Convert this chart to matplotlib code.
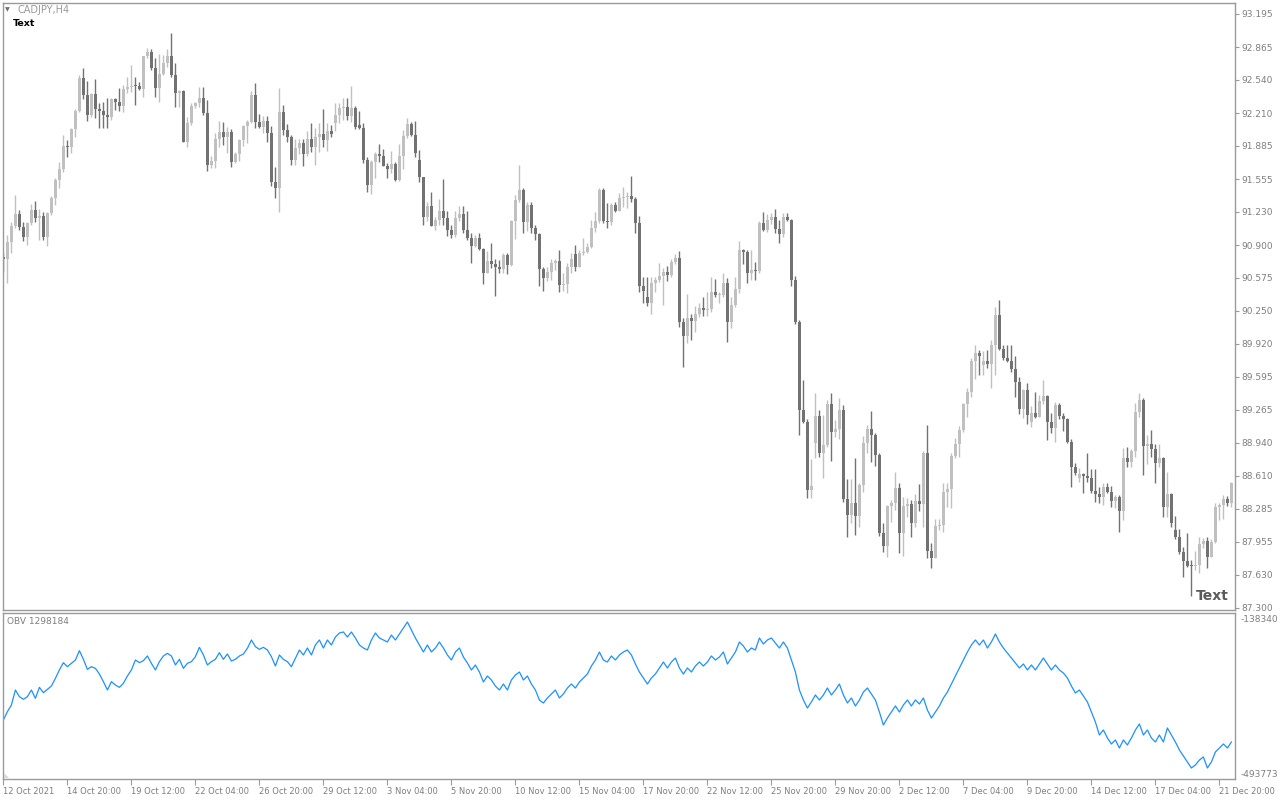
import numpy as np
import matplotlib.pyplot as plt
from matplotlib.patches import Polygon

# CADJPY H4 candles, 12 Oct - 21 Dec 2021
closes = [
    90.760, 90.936, 91.091, 91.207, 91.085, 90.985, 91.118, 91.250, 91.174, 91.190,
    90.985, 91.217, 91.372, 91.548, 91.657, 91.885, 91.875, 92.054, 92.233, 92.563,
    92.391, 92.193, 92.401, 92.249, 92.233, 92.193, 92.173, 92.352, 92.322, 92.285,
    92.451, 92.474, 92.484, 92.481, 92.451, 92.778, 92.821, 92.656, 92.464, 92.600,
    92.712, 92.778, 92.590, 92.414, 92.431, 91.928, 92.110, 92.282, 92.309, 92.365,
    92.209, 91.697, 91.736, 91.951, 92.021, 91.971, 92.027, 91.730, 91.806, 91.945,
    92.083, 92.127, 92.391, 92.127, 92.077, 92.133, 92.011, 91.531, 91.472, 92.222,
    92.044, 91.978, 91.746, 91.862, 91.918, 91.806, 91.951, 91.878, 91.971, 92.004,
    91.945, 92.034, 92.004, 92.193, 92.262, 92.269, 92.186, 92.262, 92.075, 92.060,
    91.746, 91.498, 91.723, 91.806, 91.786, 91.690, 91.657, 91.703, 91.548, 91.786,
    91.984, 92.103, 91.994, 91.819, 91.574, 91.184, 91.289, 91.094, 91.151, 91.240,
    91.167, 91.051, 91.002, 91.167, 91.210, 91.051, 90.975, 90.896, 90.975, 90.859,
    90.628, 90.744, 90.717, 90.687, 90.664, 90.803, 90.704, 91.141, 91.349, 91.448,
    91.134, 91.299, 91.068, 91.008, 90.664, 90.578, 90.631, 90.727, 90.747, 90.505,
    90.515, 90.687, 90.764, 90.687, 90.820, 90.836, 90.879, 91.068, 91.141, 91.448,
    91.141, 91.134, 91.299, 91.243, 91.366, 91.382, 91.392, 91.359, 91.118, 90.496,
    90.449, 90.330, 90.522, 90.555, 90.595, 90.638, 90.605, 90.737, 90.770, 90.142,
    90.003, 90.175, 90.152, 90.218, 90.274, 90.258, 90.268, 90.433, 90.406, 90.410,
    90.522, 90.142, 90.307, 90.466, 90.853, 90.837, 90.622, 90.655, 90.648, 91.124,
    91.052, 91.151, 91.184, 91.061, 91.012, 91.184, 91.151, 90.555, 90.142, 89.265,
    89.149, 88.471, 88.511, 89.206, 88.835, 88.918, 89.325, 89.050, 89.073, 89.265,
    88.379, 88.223, 88.339, 88.213, 88.521, 88.934, 89.073, 89.017, 88.819, 88.041,
    87.915, 88.312, 88.345, 88.488, 88.048, 88.312, 88.332, 88.140, 88.362, 88.332,
    88.835, 87.869, 87.793, 88.114, 88.124, 88.455, 88.478, 88.812, 88.928, 89.067,
    89.325, 89.447, 89.755, 89.834, 89.804, 89.755, 89.722, 89.910, 90.208, 89.867,
    89.785, 89.755, 89.672, 89.546, 89.275, 89.464, 89.216, 89.239, 89.199, 89.355,
    89.404, 89.150, 89.083, 89.315, 89.209, 89.173, 88.951, 88.703, 88.637, 88.627,
    88.610, 88.587, 88.461, 88.428, 88.399, 88.504, 88.455, 88.365, 88.405, 88.266,
    88.786, 88.752, 88.858, 89.249, 89.365, 88.908, 88.928, 88.875, 88.736, 88.786,
    88.306, 88.432, 88.147, 88.008, 87.859, 87.770, 87.720, 87.713, 87.727, 87.935,
    87.968, 87.810, 87.952, 88.306, 88.323, 88.382, 88.346, 88.537,
]

highs = [
    90.820, 91.002, 91.134, 91.399, 91.250, 91.134, 91.134, 91.306, 91.339, 91.260,
    91.233, 91.233, 91.392, 91.571, 91.723, 91.994, 91.945, 92.067, 92.252, 92.590,
    92.663, 92.530, 92.408, 92.550, 92.309, 92.319, 92.358, 92.358, 92.365, 92.464,
    92.491, 92.573, 92.689, 92.573, 92.524, 92.782, 92.854, 92.848, 92.755, 92.795,
    92.788, 92.848, 93.003, 92.706, 92.441, 92.441, 92.176, 92.309, 92.325, 92.474,
    92.474, 92.342, 91.786, 92.017, 92.133, 92.127, 92.077, 92.050, 91.829, 91.951,
    92.093, 92.143, 92.431, 92.507, 92.203, 92.183, 92.183, 92.083, 91.673, 92.457,
    92.292, 92.103, 91.994, 91.951, 91.951, 91.951, 92.034, 92.117, 92.060, 92.117,
    92.252, 92.117, 92.093, 92.308, 92.315, 92.358, 92.358, 92.480, 92.282, 92.232,
    92.110, 91.779, 91.746, 91.829, 91.902, 91.855, 91.713, 91.835, 91.730, 91.905,
    92.044, 92.160, 92.127, 92.130, 91.850, 91.580, 91.333, 91.425, 91.184, 91.356,
    91.557, 91.240, 91.101, 91.240, 91.289, 91.289, 91.240, 91.018, 91.002, 91.025,
    90.869, 90.843, 90.919, 90.764, 90.754, 90.820, 90.820, 91.151, 91.399, 91.696,
    91.465, 91.333, 91.333, 91.101, 91.018, 90.687, 90.687, 90.764, 90.764, 90.853,
    90.621, 90.727, 90.820, 90.902, 90.853, 90.969, 90.919, 91.151, 91.233, 91.465,
    91.465, 91.316, 91.322, 91.333, 91.415, 91.475, 91.432, 91.587, 91.382, 91.190,
    90.582, 90.588, 90.582, 90.582, 90.721, 90.671, 90.694, 90.760, 90.813, 90.846,
    90.175, 90.416, 90.218, 90.297, 90.330, 90.390, 90.440, 90.582, 90.562, 90.440,
    90.622, 90.572, 90.390, 90.582, 90.946, 90.860, 90.853, 90.853, 90.737, 91.141,
    91.233, 91.210, 91.217, 91.257, 91.151, 91.224, 91.217, 91.157, 90.595, 90.158,
    89.563, 89.173, 88.776, 89.437, 89.265, 89.216, 89.364, 89.437, 89.166, 89.381,
    89.315, 88.577, 88.577, 88.785, 88.544, 89.007, 89.116, 89.259, 89.034, 88.835,
    88.140, 88.322, 88.372, 88.653, 88.544, 88.405, 88.389, 88.372, 88.432, 88.531,
    88.862, 89.116, 87.942, 88.180, 88.180, 88.544, 88.544, 88.835, 88.984, 89.106,
    89.338, 89.480, 89.778, 89.910, 89.861, 89.854, 89.861, 89.960, 90.291, 90.357,
    89.910, 89.910, 89.910, 89.801, 89.589, 89.470, 89.530, 89.305, 89.447, 89.414,
    89.563, 89.414, 89.232, 89.341, 89.338, 89.239, 89.183, 88.974, 88.743, 88.686,
    88.643, 88.842, 88.676, 88.676, 88.504, 88.544, 88.537, 88.511, 88.422, 88.422,
    88.885, 88.901, 88.875, 89.331, 89.437, 89.381, 89.017, 89.067, 88.928, 88.928,
    88.796, 88.653, 88.438, 88.213, 88.081, 87.909, 88.041, 87.777, 87.869, 88.008,
    87.992, 88.008, 87.982, 88.346, 88.346, 88.422, 88.412, 88.554,
]

lows = [
    90.638, 90.522, 90.820, 91.068, 91.052, 90.942, 90.903, 91.101, 91.134, 90.952,
    90.952, 90.896, 91.200, 91.300, 91.465, 91.630, 91.779, 91.812, 91.978, 92.219,
    92.352, 92.133, 92.176, 92.160, 92.061, 92.061, 92.061, 92.143, 92.242, 92.233,
    92.226, 92.408, 92.424, 92.292, 92.441, 92.375, 92.755, 92.639, 92.375, 92.325,
    92.590, 92.673, 92.573, 92.276, 92.276, 91.928, 91.879, 92.094, 92.266, 92.276,
    92.193, 91.640, 91.663, 91.670, 91.878, 91.895, 91.812, 91.680, 91.720, 91.739,
    91.888, 91.918, 92.117, 92.060, 92.067, 92.017, 91.928, 91.488, 91.366, 91.233,
    91.994, 91.928, 91.696, 91.696, 91.806, 91.687, 91.786, 91.829, 91.696, 91.829,
    91.878, 91.839, 91.971, 92.037, 92.110, 92.143, 92.143, 92.127, 92.050, 92.050,
    91.720, 91.432, 91.409, 91.564, 91.730, 91.687, 91.571, 91.620, 91.541, 91.541,
    91.653, 91.961, 91.984, 91.780, 91.531, 91.101, 91.144, 91.091, 91.051, 91.101,
    91.101, 90.995, 90.975, 90.979, 91.141, 91.025, 90.952, 90.727, 90.879, 90.853,
    90.515, 90.628, 90.671, 90.400, 90.621, 90.628, 90.615, 90.694, 90.962, 91.333,
    91.018, 91.045, 91.025, 90.952, 90.499, 90.449, 90.548, 90.555, 90.654, 90.439,
    90.449, 90.423, 90.621, 90.648, 90.681, 90.803, 90.820, 90.869, 91.035, 91.118,
    91.118, 91.068, 91.101, 91.233, 91.243, 91.276, 91.267, 91.333, 91.018, 90.440,
    90.324, 90.297, 90.215, 90.440, 90.539, 90.307, 90.549, 90.582, 90.714, 90.086,
    89.695, 89.933, 89.960, 90.043, 90.191, 90.201, 90.198, 90.241, 90.383, 90.330,
    90.383, 89.943, 90.076, 90.291, 90.430, 90.714, 90.522, 90.555, 90.555, 90.628,
    91.045, 91.035, 91.108, 91.018, 90.926, 90.985, 91.144, 90.496, 90.119, 89.017,
    89.133, 88.389, 88.389, 88.786, 88.802, 88.587, 88.895, 88.762, 89.000, 88.974,
    88.355, 88.008, 88.140, 88.025, 88.107, 88.455, 88.835, 88.752, 88.713, 88.015,
    87.859, 87.803, 88.157, 88.273, 87.849, 87.816, 88.207, 88.008, 88.101, 88.266,
    88.101, 87.793, 87.694, 87.803, 88.074, 88.058, 88.306, 88.289, 88.785, 88.802,
    89.050, 89.192, 89.391, 89.570, 89.612, 89.612, 89.679, 89.480, 89.612, 89.861,
    89.761, 89.745, 89.646, 89.397, 89.225, 89.182, 89.126, 89.100, 89.189, 89.193,
    89.325, 88.968, 89.034, 88.951, 89.173, 89.060, 88.935, 88.498, 88.620, 88.554,
    88.445, 88.554, 88.438, 88.356, 88.346, 88.323, 88.438, 88.299, 88.289, 88.058,
    88.174, 88.696, 88.703, 88.802, 89.193, 88.620, 88.729, 88.796, 88.544, 88.703,
    88.200, 88.200, 88.107, 87.982, 87.836, 87.605, 87.704, 87.419, 87.677, 87.651,
    87.893, 87.694, 87.803, 87.942, 88.174, 88.180, 88.313, 88.306,
]

# opens follow the previous close, except where the chart shows a gap
first_open = 90.780
gap_opens = {83: 92.117, 89: 92.093, 104: 91.746, 143: 90.813, 161: 90.390,
             203: 88.941, 245: 89.712, 257: 89.150, 269: 88.594, 293: 88.074}

# On Balance Volume, in thousands
obv_k = [
    -371.4, -352.2, -336.8, -302.2, -317.6, -323.7, -317.6, -302.2, -321.4, -296.1,
    -308.4, -300.7, -293.0, -275.3, -256.0, -239.1, -248.4, -240.7, -233.0, -211.4,
    -231.4, -254.5, -248.4, -252.2, -265.3, -283.0, -302.2, -283.0, -290.7, -296.1,
    -286.8, -269.9, -256.0, -233.0, -239.1, -234.5, -223.7, -240.7, -256.0, -236.8,
    -223.7, -217.6, -223.7, -244.5, -231.4, -252.2, -240.7, -236.8, -225.3, -203.7,
    -221.4, -244.5, -236.8, -231.4, -216.0, -231.4, -219.1, -235.3, -231.4, -223.7,
    -219.1, -206.0, -186.8, -202.2, -208.4, -203.7, -209.9, -225.3, -246.8, -221.4,
    -231.4, -236.8, -248.4, -229.1, -209.9, -221.4, -205.3, -221.4, -198.3, -186.8,
    -205.3, -186.8, -198.3, -179.9, -170.6, -168.3, -179.9, -168.3, -182.2, -198.3,
    -205.3, -209.9, -186.8, -170.6, -182.2, -186.8, -191.4, -175.3, -186.8, -173.0,
    -159.1, -145.3, -163.7, -182.2, -198.3, -214.5, -198.3, -214.5, -205.3, -191.4,
    -205.3, -221.4, -233.0, -214.5, -205.3, -226.0, -239.9, -256.0, -244.5, -260.7,
    -283.7, -269.9, -279.1, -293.0, -302.2, -288.4, -302.2, -279.1, -267.6, -260.7,
    -279.1, -269.9, -288.4, -302.2, -325.3, -332.2, -320.7, -311.4, -302.2, -320.7,
    -311.4, -297.6, -288.4, -297.6, -283.7, -274.5, -265.3, -246.8, -233.0, -214.5,
    -233.0, -237.6, -223.7, -233.0, -221.4, -214.5, -209.9, -221.4, -242.2, -260.7,
    -274.5, -288.4, -274.5, -265.3, -251.4, -237.6, -251.4, -237.6, -228.4, -251.4,
    -265.3, -251.4, -260.7, -246.8, -237.6, -246.8, -237.6, -223.7, -233.0, -226.0,
    -214.5, -242.2, -228.4, -214.5, -191.4, -200.7, -214.5, -205.3, -209.9, -182.2,
    -196.0, -186.8, -182.2, -193.7, -205.3, -191.4, -205.3, -233.0, -260.7, -302.2,
    -325.3, -343.8, -329.9, -313.7, -325.3, -313.7, -297.6, -313.7, -302.2, -288.4,
    -313.7, -332.2, -320.7, -339.1, -325.3, -306.8, -297.6, -311.4, -325.3, -353.0,
    -383.0, -366.8, -353.0, -339.1, -353.0, -336.8, -325.3, -339.1, -325.3, -334.5,
    -320.7, -348.4, -366.8, -353.0, -339.1, -320.7, -306.8, -288.4, -269.9, -251.4,
    -233.0, -214.5, -198.3, -186.8, -198.3, -186.8, -205.3, -191.4, -173.0, -191.4,
    -205.3, -216.8, -228.4, -239.9, -251.4, -242.2, -256.0, -244.5, -256.0, -242.2,
    -228.4, -242.2, -256.0, -244.5, -256.0, -263.0, -274.5, -293.0, -309.1, -302.2,
    -316.0, -329.9, -353.0, -376.1, -406.1, -394.5, -413.0, -426.8, -417.6, -436.1,
    -417.6, -429.1, -413.0, -394.5, -380.7, -406.1, -394.5, -413.0, -422.2, -406.1,
    -422.2, -389.9, -406.1, -422.2, -440.7, -454.5, -468.4, -482.2, -475.3, -463.8,
    -456.8, -482.2, -468.4, -445.3, -436.1, -426.8, -436.1, -422.2,
]

price_ticks = [93.195, 92.865, 92.540, 92.210, 91.885, 91.555, 91.230, 90.900, 90.575,
               90.250, 89.920, 89.595, 89.265, 88.940, 88.610, 88.285, 87.955, 87.630, 87.300]
date_labels = ['12 Oct 2021', '14 Oct 20:00', '19 Oct 12:00', '22 Oct 04:00', '26 Oct 20:00',
               '29 Oct 12:00', '3 Nov 04:00', '5 Nov 20:00', '10 Nov 12:00', '15 Nov 04:00',
               '17 Nov 20:00', '22 Nov 12:00', '25 Nov 20:00', '29 Nov 20:00', '2 Dec 12:00',
               '7 Dec 04:00', '9 Dec 20:00', '14 Dec 12:00', '17 Dec 04:00', '21 Dec 20:00']
obv_ticks = [-138340, -493773]

n = len(closes)
x = np.arange(n)
c = np.array(closes)
o = np.concatenate([[first_open], c[:-1]])
for k, v in gap_opens.items():
    o[k] = v
h = np.maximum(np.array(highs), np.maximum(o, c))
l = np.minimum(np.array(lows), np.minimum(o, c))
obv = np.array(obv_k) * 1000

BULL = '#c0c0c0'
BEAR = '#727272'
FRAME = '#9a9a9a'
LABEL = '#7f7f7f'

W, H = 1280, 800
fig = plt.figure(figsize=(W / 100, H / 100), dpi=100)
fig.patch.set_facecolor('white')

ax = fig.add_axes([3 / W, 1 - 610 / H, 1232 / W, 607 / H])
ax2 = fig.add_axes([3 / W, 1 - 779 / H, 1232 / W, 166 / H])

up = c >= o
colors = np.where(up, BULL, BEAR)

ax.vlines(x, l, h, colors=colors, linewidth=1.0)
body = np.maximum(np.abs(c - o), 0.011)
ax.bar(x, body, bottom=np.minimum(o, c), width=0.72, color=colors, linewidth=0)

ax.set_xlim(-0.1, 307.9)
ax.set_ylim(87.280, 93.304)
ax.set_xticks([])
ax.yaxis.tick_right()
ax.set_yticks(price_ticks)
ax.set_yticklabels(['%.3f' % p for p in price_ticks])
ax.tick_params(axis='y', direction='out', length=3, width=0.8, color=FRAME,
               labelsize=6.5, labelcolor=LABEL, pad=1.5)

ax2.plot(x, obv, color='#1e90ff', linewidth=0.9)
ax2.set_xlim(-0.1, 307.9)
ax2.set_ylim(-507620, -124492)
ax2.yaxis.tick_right()
ax2.set_yticks(obv_ticks)
ax2.set_yticklabels([str(v) for v in obv_ticks])
ax2.tick_params(axis='y', length=0, labelsize=6.5, labelcolor=LABEL, pad=4)
ax2.set_xticks(np.arange(0, n, 16))
ax2.set_xticklabels(date_labels, ha='left')
ax2.tick_params(axis='x', direction='out', length=4, width=0.8, color=FRAME,
                labelsize=6.0, labelcolor=LABEL, pad=1.5)

for a in (ax, ax2):
    a.set_facecolor('white')
    for s in a.spines.values():
        s.set_color(FRAME)
        s.set_linewidth(1.0)

# small grey corner mark inside the indicator window
corner = [(4 / W, 1 - 778 / H), (4 / W, 1 - 773 / H), (9 / W, 1 - 778 / H)]
fig.patches.append(Polygon(corner, closed=True, facecolor='#d8d8d8', edgecolor='none',
                           transform=fig.transFigure, figure=fig))

# chart captions
fig.text(5 / W, 1 - 10 / H, '\u25bc', fontsize=4.5, color='#707070', va='center')
fig.text(18 / W, 1 - 10 / H, 'CADJPY,H4', fontsize=7.0, color='#9a9a9a', va='center')
fig.text(13 / W, 1 - 24 / H, 'Text', fontsize=6.8, color='black', weight='bold', va='center')
fig.text(1196 / W, 1 - 596 / H, 'Text', fontsize=10, color='#5a5a5a', weight='bold', va='center')
fig.text(7 / W, 1 - 621 / H, 'OBV 1298184', fontsize=6.5, color=LABEL, va='center')

fig.savefig('out.png', dpi=100, facecolor='white')
